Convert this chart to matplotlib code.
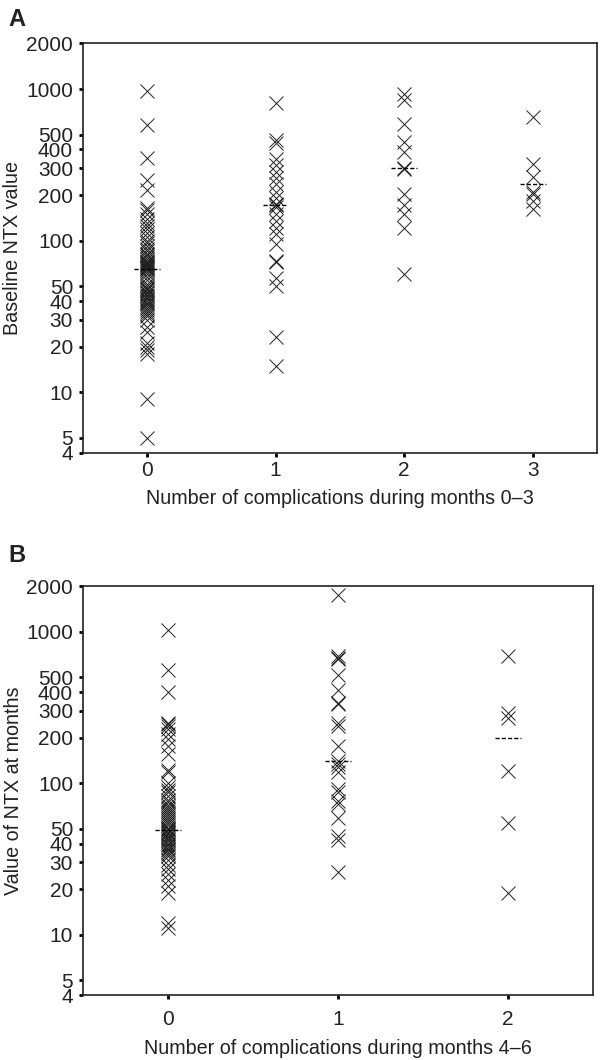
import matplotlib
matplotlib.use("Agg")
import matplotlib.pyplot as plt
from matplotlib.ticker import FixedLocator, FixedFormatter, NullLocator

plt.rcParams['font.family'] = ['Liberation Sans', 'DejaVu Sans']

# panel A: baseline NTX by number of complications, months 0-3
a_cats = [0, 1, 2, 3]
a_grp0 = [970, 580, 350, 250, 215, 165, 160, 150, 140, 130, 125, 120, 112, 105,
          100, 96, 92, 88, 85, 82, 80, 78, 76, 74, 72, 71, 70, 69, 68, 67, 66,
          65, 64, 62, 60, 58, 55, 52, 50, 49, 48, 47, 46, 45, 44, 43, 42, 41,
          40, 39, 38, 37, 36, 35, 34, 33, 32, 30, 27, 25, 21, 20, 19, 18, 9, 5]
a_grp1 = [815, 460, 440, 346, 316, 284, 258, 235, 211, 190, 175, 171, 167,
          151, 134, 121, 110, 95, 74, 72, 57, 50, 23, 15]
a_grp2 = [930, 850, 590, 450, 387, 302, 297, 202, 173, 149, 121, 60]
a_grp3 = [655, 322, 265, 211, 202, 182, 163]
a_medians = [65, 171, 300, 236]

# panel B: NTX at months by number of complications, months 4-6
b_cats = [0, 1, 2]
b_grp0 = [1020, 560, 400, 250, 245, 238, 228, 210, 195, 175, 155, 122, 118,
          100, 95, 90, 87, 82, 78, 75, 72, 70, 68, 66, 64, 62, 60, 58, 56, 55,
          53, 51, 50, 49, 48, 47, 46, 45, 44, 43, 42, 41, 40, 39, 38, 37, 36,
          35, 34, 33, 31, 29, 27, 25, 23, 21, 19, 12, 11]
b_grp1 = [1750, 690, 670, 660, 520, 415, 340, 335, 250, 240, 176, 140, 135,
          128, 118, 92, 88, 76, 73, 59, 45, 42, 26]
b_grp2 = [690, 290, 268, 121, 55, 19]
b_medians = [49, 140, 198]

yticks = [4, 5, 10, 20, 30, 40, 50, 100, 200, 300, 400, 500, 1000, 2000]

fig = plt.figure(figsize=(6, 10.6), dpi=100)
axA = fig.add_axes([0.138, 0.573, 0.857, 0.386])
axB = fig.add_axes([0.138, 0.0613, 0.850, 0.3857])


def draw(ax, cats, groups, medians, hw, xlabel, ylabel, xpad):
    for c, g in zip(cats, groups):
        ax.plot([c] * len(g), g, linestyle='none', marker='x', markersize=9.5,
                markeredgewidth=0.7, color='#222222')
    ax.hlines(medians, [c - hw for c in cats], [c + hw for c in cats],
              colors='black', linewidth=1.0, linestyles=(0, (3, 1.5)))
    ax.set_yscale('log')
    ax.set_ylim(4, 2000)
    ax.set_xlim(-0.5, cats[-1] + 0.5)
    ax.yaxis.set_major_locator(FixedLocator(yticks))
    ax.yaxis.set_major_formatter(FixedFormatter([str(t) for t in yticks]))
    ax.yaxis.set_minor_locator(NullLocator())
    ax.set_xticks(cats)
    ax.set_xticklabels([str(c) for c in cats])
    ax.tick_params(axis='both', direction='out', length=3, width=2,
                   labelsize=15, color='black', labelcolor='#222222')
    ax.tick_params(axis='x', pad=xpad)
    ax.tick_params(axis='y', pad=4)
    for s in ax.spines.values():
        s.set_linewidth(1.2)
        s.set_color('#222222')
    ax.set_xlabel(xlabel, fontsize=14.2, color='#222222')
    ax.set_ylabel(ylabel, fontsize=14.2, color='#222222')
    ax.yaxis.set_label_coords(-0.118, 0.5)


draw(axA, a_cats, [a_grp0, a_grp1, a_grp2, a_grp3], a_medians, 0.1,
     'Number of complications during months 0\u20133', 'Baseline NTX value', 3)
axA.xaxis.set_label_coords(0.5, -0.088)

draw(axB, b_cats, [b_grp0, b_grp1, b_grp2], b_medians, 0.075,
     'Number of complications during months 4\u20136', 'Value of NTX at months', 8)
axB.xaxis.set_label_coords(0.5, -0.108)

fig.text(8 / 600, 1 - 26 / 1060, 'A', fontsize=17, fontweight='bold',
         color='#222222', va='baseline')
fig.text(8 / 600, 1 - 562 / 1060, 'B', fontsize=17, fontweight='bold',
         color='#222222', va='baseline')

fig.savefig('out.png', dpi=100)
